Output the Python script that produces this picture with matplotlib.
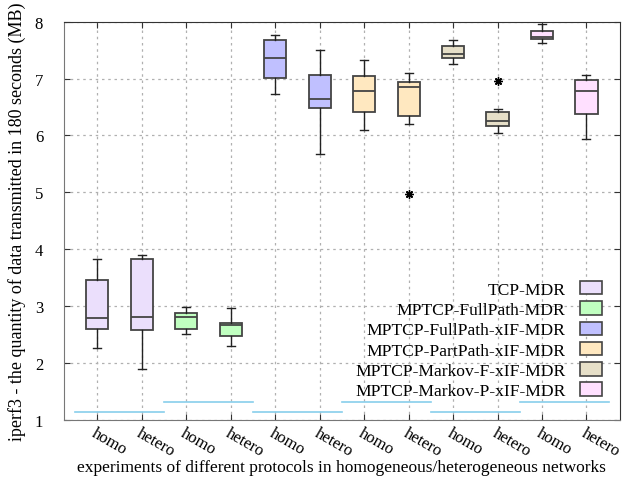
import numpy as np
import matplotlib
matplotlib.use("Agg")
import matplotlib.pyplot as plt
from matplotlib.patches import Patch

plt.rcParams["font.family"] = "Liberation Serif"

# --- data ---
protocols = ["TCP-MDR", "MPTCP-FullPath-MDR", "MPTCP-FullPath-xIF-MDR",
             "MPTCP-PartPath-xIF-MDR", "MPTCP-Markov-F-xIF-MDR", "MPTCP-Markov-P-xIF-MDR"]
colors = ["#ebdffc", "#c0ffc0", "#c0c0ff", "#ffe8c0", "#e6dfc8", "#ffe0ff"]
tick_labels = ["homo", "hetero"] * 6

# per box: whisker low, q1, median, q3, whisker high
whislo = [2.26, 1.90, 2.50, 2.30, 6.73, 5.68, 6.09, 6.20, 7.26, 6.04, 7.62, 5.93]
q1     = [2.60, 2.58, 2.60, 2.48, 7.01, 6.48, 6.42, 6.35, 7.36, 6.16, 7.70, 6.37]
med    = [2.79, 2.81, 2.81, 2.66, 7.37, 6.64, 6.78, 6.85, 7.44, 6.25, 7.73, 6.78]
q3     = [3.45, 3.82, 2.88, 2.70, 7.67, 7.07, 7.05, 6.94, 7.58, 6.41, 7.84, 6.97]
whishi = [3.82, 3.89, 2.99, 2.97, 7.77, 7.51, 7.33, 7.10, 7.67, 6.46, 7.96, 7.06]
fliers = [[], [], [], [], [], [], [], [4.97], [], [6.96], [], []]

# blue reference lines, one per protocol group
group_level = [1.14, 1.31, 1.14, 1.31, 1.14, 1.31]

stats = []
for i in range(12):
    stats.append(dict(whislo=whislo[i], q1=q1[i], med=med[i], q3=q3[i],
                      whishi=whishi[i], fliers=fliers[i]))

fig = plt.figure(figsize=(6.39, 4.85), dpi=100)
ax = fig.add_axes([0.1002, 0.1326, 0.8698, 0.8206])

pos = np.arange(1, 13)
bp = ax.bxp(stats, positions=pos, widths=0.5, patch_artist=True, showfliers=True,
            boxprops=dict(edgecolor="#444444", linewidth=1.3),
            medianprops=dict(color="#444444", linewidth=1.3),
            whiskerprops=dict(color="#222222", linewidth=1.0),
            capprops=dict(color="#222222", linewidth=1.0),
            flierprops=dict(marker=(8, 2, 0), markersize=6, markeredgecolor="black",
                            markerfacecolor="black", linestyle="none"))
for i, b in enumerate(bp["boxes"]):
    b.set_facecolor(colors[i // 2])
for c in bp["caps"]:
    x = c.get_xdata()
    m = x.mean()
    c.set_xdata([m - 0.09, m + 0.09])

for g, lvl in enumerate(group_level):
    ax.plot([2 * g + 0.5, 2 * g + 2.5], [lvl, lvl], color="#87ceeb", linewidth=1.2)

ax.set_xlim(0.25, 12.75)
ax.set_ylim(1, 8)
ax.set_xticks(pos)
ax.set_xticklabels(tick_labels, rotation=-30, ha="left", va="top",
                   rotation_mode="anchor", fontsize=12)
ax.set_yticks(range(1, 9))
ax.tick_params(axis="y", labelsize=12, pad=15)
ax.tick_params(direction="in", length=4, top=True, right=True, color="#333333")
ax.grid(True, linestyle=(0, (2, 3)), color="#b0b0b0", linewidth=0.9)
ax.set_axisbelow(True)
for s in ax.spines.values():
    s.set_color("#333333")
ax.spines["left"].set_color("#777777")
ax.spines["bottom"].set_color("#777777")

ax.set_ylabel("iperf3 - the quantity of data transmitted in 180 seconds (MB)", fontsize=13)
ax.yaxis.set_label_coords(-47 / 556, 0.5)
ax.yaxis.label.set_va("center")
ax.set_xlabel("experiments of different protocols in homogeneous/heterogeneous networks",
              fontsize=12.5)
ax.xaxis.set_label_coords(0.5, -(468 - 420.7) / 398)
ax.xaxis.label.set_va("center")

handles = [Patch(facecolor=colors[i], edgecolor="#444444", linewidth=1.2)
           for i in range(6)]
ax.legend(handles, protocols, loc="lower right", bbox_to_anchor=(0.997, 0.012),
          frameon=False, markerfirst=False, fontsize=12.6, handlelength=1.3,
          handleheight=0.8, labelspacing=0.2, handletextpad=0.8)

fig.savefig("out.png", dpi=100)
